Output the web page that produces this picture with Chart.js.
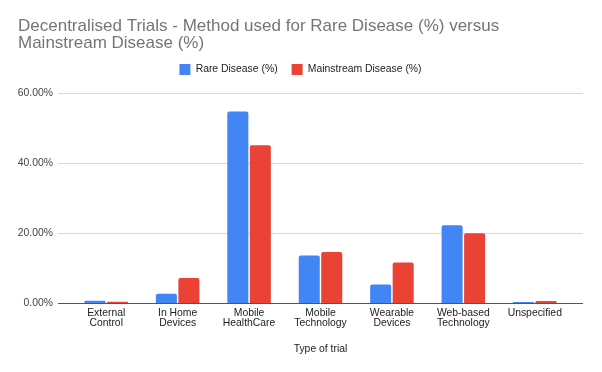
<!DOCTYPE html>
<html><head><meta charset="utf-8">
<script src="https://cdn.jsdelivr.net/npm/chart.js@4"></script>
<style>html,body{margin:0;padding:0;background:#fff}#wrap{width:602px;height:372px}</style>
</head><body><div id="wrap"><canvas id="c" width="602" height="372"></canvas></div>
<script>
const categories = [["External","Control"],["In Home","Devices"],["Mobile","HealthCare"],["Mobile","Technology"],["Wearable","Devices"],["Web-based","Technology"],"Unspecified"];
const rareDisease = [0.8, 2.8, 54.7, 13.7, 5.4, 22.3, 0.4];
const mainstreamDisease = [0.5, 7.3, 45.1, 14.7, 11.7, 20.0, 0.7];
const seriesNames = ["Rare Disease (%)", "Mainstream Disease (%)"];
const titleLines = ["Decentralised Trials - Method used for Rare Disease (%) versus", "Mainstream Disease (%)"];
const xTitle = "Type of trial";

const FONT = "'Liberation Sans', Arial, sans-serif";

const shiftPlugin = {
  id: 'shiftBlocks',
  beforeLayout(chart) {
    const lg = chart.legend;
    if (lg && !lg._patched) {
      const orig = lg.fit;
      lg.fit = function () { orig.call(this); this.height += 8; };
      lg._patched = true;
    }
  },
  afterLayout(chart) {
    const x = chart.scales.x;
    const inset = 12.5;
    x.left = chart.chartArea.left + inset;
    x.right = chart.chartArea.right - inset;
    x.width = x.right - x.left;
    x.configure();
  }
};

new Chart(document.getElementById('c'), {
  type: 'bar',
  plugins: [shiftPlugin],
  data: {
    labels: categories,
    datasets: [
      {label: seriesNames[0], data: rareDisease, backgroundColor: '#4285F4', borderRadius: 2, borderSkipped: 'bottom', categoryPercentage: 0.63, barPercentage: 0.935},
      {label: seriesNames[1], data: mainstreamDisease, backgroundColor: '#EA4335', borderRadius: 2, borderSkipped: 'bottom', categoryPercentage: 0.63, barPercentage: 0.935}
    ]
  },
  options: {
    responsive: false,
    animation: false,
    devicePixelRatio: 1,
    layout: {padding: {left: 18, right: 19, top: 18, bottom: 13}},
    plugins: {
      tooltip: {enabled: false},
      title: {display: true, text: titleLines, align: 'start', color: '#757575',
        font: {family: FONT, size: 17, weight: 'normal', lineHeight: '17px'}, padding: {top: 0, bottom: -2}},
      legend: {display: true, position: 'top', labels: {boxWidth: 11, boxHeight: 11, color: '#222', font: {family: FONT, size: 10.4}, padding: 14}}
    },
    scales: {
      x: {
        grid: {display: false, drawTicks: false},
        border: {display: false},
        ticks: {color: '#222', font: {family: FONT, size: 10.4, lineHeight: '10px'}, maxRotation: 0, autoSkip: false, padding: 5},
        title: {display: true, text: xTitle, color: '#222', font: {family: FONT, size: 10.4}, padding: {top: 9, bottom: 4}}
      },
      y: {
        min: 0, max: 60,
        afterFit: (scale) => { scale.width = 40; },
        ticks: {stepSize: 20, color: '#444', font: {family: FONT, size: 10.4}, padding: 5, callback: v => v.toFixed(2) + '%'},
        grid: {color: ctx => (ctx.tick && ctx.tick.value === 0) ? '#555' : '#d9d9d9', drawTicks: false},
        border: {display: false}
      }
    }
  }
});
</script></body></html>
